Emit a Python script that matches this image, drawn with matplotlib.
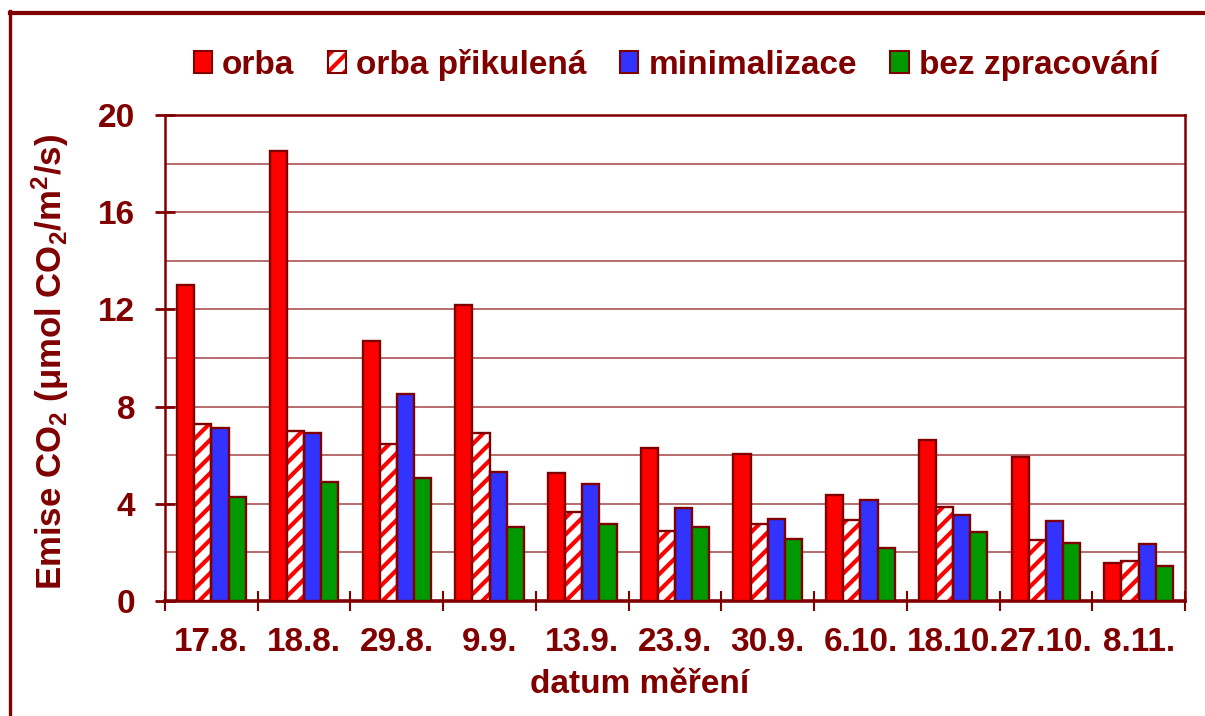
import matplotlib
matplotlib.use('Agg')
import matplotlib.pyplot as plt
from matplotlib.patches import Patch
from matplotlib.lines import Line2D
import numpy as np

# data
dates = ['17.8.', '18.8.', '29.8.', '9.9.', '13.9.', '23.9.', '30.9.',
         '6.10.', '18.10.', '27.10.', '8.11.']
orba = [13.0, 18.5, 10.7, 12.2, 5.25, 6.3, 6.05, 4.37, 6.62, 5.93, 1.58]
orba_prikulena = [7.3, 7.0, 6.45, 6.9, 3.67, 2.87, 3.15, 3.35, 3.87, 2.5, 1.63]
minimalizace = [7.1, 6.9, 8.5, 5.3, 4.8, 3.83, 3.36, 4.16, 3.52, 3.3, 2.34]
bez_zpracovani = [4.3, 4.9, 5.07, 3.05, 3.15, 3.04, 2.57, 2.18, 2.82, 2.39, 1.44]
yticks = [0, 4, 8, 12, 16, 20]

DARK = '#800000'
GRID = '#B06060'

plt.rcParams['font.family'] = ['Liberation Sans', 'DejaVu Sans']
plt.rcParams['font.weight'] = 'bold'
plt.rcParams['hatch.linewidth'] = 3.0
plt.rcParams['mathtext.fontset'] = 'custom'
plt.rcParams['mathtext.rm'] = 'Liberation Sans:bold'
plt.rcParams['mathtext.bf'] = 'Liberation Sans:bold'
plt.rcParams['mathtext.default'] = 'rm'


def main():
    fig = plt.figure(figsize=(12.05, 7.16), dpi=100)
    ax = fig.add_axes([165 / 1205, 1 - 601 / 716, 1020 / 1205, 486 / 716])

    x = np.arange(len(dates))
    w = 0.185
    ax.bar(x - 1.5 * w, orba, w, color='#FF0000', edgecolor=DARK, linewidth=1.7, zorder=3)
    # hatched bars: red stripes first, dark outline on top
    ax.bar(x - 0.5 * w, orba_prikulena, w, color='white', edgecolor='#FF0000',
           hatch='//', linewidth=0, zorder=3)
    ax.bar(x - 0.5 * w, orba_prikulena, w, fill=False, edgecolor=DARK, linewidth=1.7, zorder=4)
    ax.bar(x + 0.5 * w, minimalizace, w, color='#3333FF', edgecolor=DARK, linewidth=1.7, zorder=3)
    ax.bar(x + 1.5 * w, bez_zpracovani, w, color='#009900', edgecolor=DARK, linewidth=1.7, zorder=3)

    ax.set_xlim(-0.5, len(dates) - 0.5)
    ax.set_ylim(0, 20)

    ax.set_yticks(yticks)
    ax.set_yticks(np.arange(2, 20, 2), minor=True)
    ax.yaxis.grid(True, which='both', color=GRID, linewidth=1.3, zorder=0)
    ax.set_axisbelow(True)
    ax.tick_params(axis='y', which='major', direction='inout', length=15, width=2,
                   color=DARK, labelcolor=DARK, labelsize=24, pad=14)
    ax.tick_params(axis='y', which='minor', length=0)

    ax.set_xticks(x)
    ax.set_xticklabels(dates)
    ax.set_xticks(np.arange(-0.5, len(dates), 1), minor=True)
    ax.tick_params(axis='x', which='major', length=0, labelcolor=DARK, labelsize=24, pad=19)
    ax.tick_params(axis='x', which='minor', direction='inout', length=15, width=1.5, color=DARK)

    for side in ['left', 'right', 'top']:
        ax.spines[side].set_color(DARK)
        ax.spines[side].set_linewidth(1.8)
    ax.spines['bottom'].set_color(DARK)
    ax.spines['bottom'].set_linewidth(2.6)

    fig.text(50 / 1205, 1 - 362 / 716,
             r'Emise CO$_2$ ($\mathregular{\mu}$mol CO$_2$/m$^2$/s)',
             rotation=90, ha='center', va='center', fontsize=25,
             color=DARK, fontweight='bold')
    fig.text(640 / 1205, 1 - 693 / 716, 'datum měření', ha='center', va='baseline',
             fontsize=24, color=DARK, fontweight='bold')

    hatched = (Patch(facecolor='white', edgecolor='#FF0000', hatch='//', linewidth=0),
               Patch(fill=False, edgecolor=DARK, linewidth=1.5))
    handles = [Patch(facecolor='#FF0000', edgecolor=DARK, linewidth=1.5),
               hatched,
               Patch(facecolor='#3333FF', edgecolor=DARK, linewidth=1.5),
               Patch(facecolor='#009900', edgecolor=DARK, linewidth=1.5)]
    labels = ['orba', 'orba přikulená', 'minimalizace', 'bez zpracování']
    leg = fig.legend(handles, labels, ncol=4, loc='center',
                     bbox_to_anchor=(676 / 1205, 1 - 65 / 716), frameon=False,
                     fontsize=24, handlelength=0.55, handleheight=0.65,
                     handletextpad=0.3, columnspacing=1.0, borderpad=0)
    for t in leg.get_texts():
        t.set_color(DARK)

    # outer frame (cut off on the right and bottom)
    fig.add_artist(Line2D([10 / 1205, 1], [1 - 12.5 / 716, 1 - 12.5 / 716],
                          color=DARK, linewidth=3, transform=fig.transFigure))
    fig.add_artist(Line2D([10 / 1205, 10 / 1205], [0, 1 - 11 / 716],
                          color=DARK, linewidth=2.4, transform=fig.transFigure))

    fig.savefig('out.png', dpi=100)


if __name__ == "__main__":
    main()
